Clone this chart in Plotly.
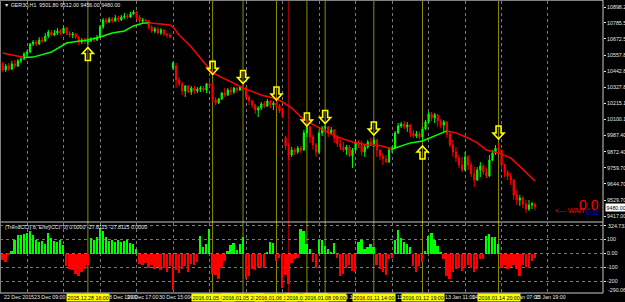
import plotly.graph_objects as go

W, H = 625, 302

# ---------------- data ----------------
bars = list(range(176))
opens = [10495,10452,10480,10459,10495,10480,10516,10529,10565,10579,
         10636,10650,10636,10664,10657,10692,10721,10700,10714,10728,
         10714,10749,10714,10700,10707,10685,10650,10664,10650,10657,
         10671,10664,10685,10756,10806,10792,10813,10799,10820,10806,
         10827,10834,10827,10849,10863,10827,10799,10806,10799,10756,
         10728,10742,10714,10735,10707,10700,10466,10480,10381,10353,
         10303,10338,10296,10324,10303,10317,10324,10310,10353,10338,
         10239,10218,10246,10289,10275,10310,10296,10324,10310,10331,
         10324,10260,10232,10204,10168,10182,10211,10196,10232,10204,
         10218,10196,10161,9970,9913,9850,9885,9871,9899,9885,
         10006,10048,9977,9921,9871,10006,10041,10048,10006,10027,
         9970,9928,9906,9885,9906,9843,9885,9935,9920,9871,
         9906,9942,9928,9956,9885,9843,9822,9800,9885,9899,
         10006,10055,10069,10048,10062,10006,9984,9999,9977,10034,
         10083,10140,10111,10133,10090,10062,10083,9999,9921,9871,
         9828,9779,9743,9836,9779,9715,9672,9743,9771,9729,
         9700,9814,9864,9899,9885,9779,9729,9700,9672,9566,
         9530,9544,9502,9466,9495,9501.8]
highs = [10509,10495,10502,10516,10523,10529,10543,10579,10593,10643,
         10664,10664,10685,10685,10714,10735,10735,10735,10749,10742,
         10763,10756,10728,10721,10714,10692,10678,10678,10678,10685,
         10685,10700,10771,10820,10820,10827,10827,10842,10834,10842,
         10856,10849,10863,10877,10870,10842,10820,10813,10806,10771,
         10756,10756,10749,10742,10714,10714,10509,10502,10402,10367,
         10345,10345,10338,10338,10331,10338,10338,10360,10395,10360,
         10260,10253,10296,10324,10324,10331,10331,10331,10338,10345,
         10331,10275,10239,10211,10196,10225,10232,10246,10239,10232,
         10232,10211,10182,9984,9935,9906,9899,9913,9913,10027,
         10062,10055,9992,9935,10027,10055,10062,10055,10048,10034,
         9992,9956,9942,9920,9920,9899,9956,9956,9949,9920,
         9956,9970,9977,9963,9892,9864,9850,9906,9913,10020,
         10076,10083,10090,10083,10069,10027,10020,10013,10048,10097,
         10154,10154,10147,10140,10104,10097,10090,10013,9956,9906,
         9850,9836,9871,9850,9800,9764,9764,9800,9786,9757,
         9850,9885,9920,9935,9885,9786,9743,9722,9679,9601,
         9566,9558,9530,9530,9516,9512.0]
lows = [10438,10438,10445,10452,10466,10473,10502,10523,10543,10572,
        10621,10621,10629,10643,10650,10678,10692,10692,10700,10700,
        10707,10700,10685,10678,10671,10629,10636,10636,10629,10650,
        10650,10657,10678,10742,10778,10785,10785,10792,10792,10799,
        10813,10813,10820,10842,10813,10785,10785,10785,10742,10714,
        10714,10707,10700,10692,10678,10678,10452,10324,10338,10275,
        10260,10289,10275,10282,10289,10296,10296,10289,10331,10225,
        10204,10211,10239,10260,10267,10275,10282,10289,10303,10310,
        10239,10204,10182,10140,10118,10168,10182,10189,10182,10168,
        10182,10147,10111,9885,9814,9836,9850,9857,9864,9878,
        9977,9935,9885,9836,9857,9984,10013,9977,9992,9935,
        9906,9885,9871,9850,9836,9757,9871,9899,9843,9836,
        9892,9913,9906,9836,9814,9779,9793,9793,9864,9892,
        9999,10041,10034,10013,9977,9970,9970,9963,9963,10027,
        10076,10090,10076,10048,10041,10013,9970,9906,9836,9800,
        9757,9729,9736,9743,9693,9622,9665,9693,9708,9686,
        9693,9807,9850,9864,9743,9693,9672,9637,9530,9495,
        9488,9473,9439,9452,9466,9456.0]
closes = [10452,10480,10459,10495,10480,10516,10529,10565,10579,10636,
          10650,10636,10664,10657,10692,10721,10700,10714,10728,10714,
          10749,10714,10700,10707,10685,10650,10664,10650,10657,10671,
          10664,10685,10756,10806,10792,10813,10799,10820,10806,10827,
          10834,10827,10849,10863,10827,10799,10806,10799,10756,10728,
          10742,10714,10735,10707,10700,10685,10502,10381,10353,10303,
          10338,10296,10324,10303,10317,10324,10310,10353,10338,10239,
          10218,10246,10289,10275,10310,10296,10324,10310,10331,10324,
          10260,10232,10204,10168,10182,10211,10196,10232,10204,10218,
          10196,10161,10125,9913,9850,9885,9871,9899,9885,10006,
          10048,9977,9921,9871,10006,10041,10048,10006,10027,9970,
          9928,9906,9885,9906,9843,9885,9935,9920,9871,9906,
          9942,9928,9956,9885,9843,9822,9800,9885,9899,10006,
          10055,10069,10048,10062,10006,9984,9999,9977,10034,10083,
          10140,10111,10133,10090,10062,10083,9999,9921,9871,9828,
          9779,9743,9836,9779,9715,9672,9743,9771,9729,9700,
          9814,9864,9899,9885,9779,9729,9700,9672,9566,9530,
          9544,9502,9466,9495,9502,9480.0]

ma_bars = [0, 7, 10, 16, 21, 23, 28, 32, 36, 40, 43, 46, 48, 55, 56, 58, 62, 65,
           69, 75, 79, 85, 90, 92, 95, 98, 100, 104, 110, 115, 120, 124, 128,
           134, 138, 141, 146, 149, 153, 156, 159, 163, 167, 171, 175]
ma_vals = [10572, 10540, 10543, 10579, 10643, 10650, 10664, 10686, 10714, 10728,
           10764, 10783, 10786, 10771, 10756, 10700, 10615, 10537, 10431, 10367,
           10324, 10275, 10246, 10225, 10182, 10119, 10090, 10041, 9977, 9942,
           9920, 9917, 9892, 9935, 9949, 9977, 10020, 10006, 9970, 9935, 9885,
           9864, 9828, 9743, 9665]

cci_vals = [-48,-60,-12,15,100,135,135,140,145,160,
            130,95,85,90,70,145,110,90,85,100,
            60,-90,-110,-120,-145,-160,-130,-110,-80,110,
            100,120,185,160,120,90,100,85,95,80,
            90,100,75,70,35,-75,-80,-70,-100,-85,
            -110,-95,-120,-100,-130,-90,-260,-120,-140,-110,
            -90,-130,-75,-85,-60,126,43,67,174,-148,
            -150,-183,-100,-52,19,60,74,26,67,115,
            -180,-160,-110,-120,-95,-100,-100,5,85,75,
            -50,-30,-245,-150,-215,-65,-40,-35,175,160,
            70,30,-60,-100,100,100,55,30,10,75,
            -30,-160,-145,-100,-80,-125,-135,85,100,30,
            45,70,50,-85,-110,-135,-150,-40,-30,100,
            165,110,80,65,50,-90,-135,-90,-60,20,
            125,150,100,55,10,-40,-160,-183,-130,-110,
            -100,-125,-100,-80,-105,-135,-112,-40,-40,125,
            140,120,115,70,-100,-80,-110,-95,-80,-110,
            -160,-80,-95,-100,-55,-30]

sell_bars = [69, 79, 90, 100, 106, 122, 163]
sell_arrow_price = [10470, 10406, 10289, 10104, 10122, 10041, 10012]
buy_bars = [28, 138]
buy_arrow_price = [10562, 9864]

signal_line_bars = [28, 69, 79, 90, 100, 106, 122, 138, 163]
signal_line_text = ["2015.12.28 16:00", "2016.01.05 08:00", "2016.01.05 20:00",
                    "2016.01.06 18:00", "2016.01.07 16:00", "2016.01.08 09:00",
                    "2016.01.11 14:00", "2016.01.12 19:00", "2016.01.14 20:00"]
red_line_bars = [94]

grid_bars = [8, 20, 32, 44, 56, 68, 80, 92, 104, 116, 128, 140, 152, 164, 179]
time_label_bars = [-0.2, 9.6, 33.3, 40.2, 50.7, 60.9, 111.9, 129.0, 144.7, 153.6, 165.8, 174.3]
time_label_text = ["22 Dec 2015", "23 Dec 09:00", "28 Dec 19:00", "29 Dec 17:00",
                   "30 Dec 15:00", "4 Jan 13:00", "8 Jan 16:00", "11 Jan 20:00",
                   "13 Jan 11:00", "14 Jan 04:00", "15 Jan 07:00", "15 Jan 19:00"]

price_ticks = [10898.20, 10785.50, 10672.50, 10557.80, 10442.80, 10327.80, 10215.10,
               10100.10, 9987.40, 9872.40, 9759.70, 9644.70, 9529.70, 9417.00]
cci_levels = [200, 100, 0, -100, -200]
cci_level_text = ["", "100", "0.00", "-100", "-200"]
cci_max_label = "324.7333"
cci_min_label = "-290.0667"

title_text = "GER30,H1  9501.80 9512.00 9456.00 9480.00"
ind_title = "(TrendCCI) 8, EntryCCI: 0) 0.0000 -27.8115 -27.8115 0.0000"

# ---------------- layout geometry (pixels) ----------------
PLOT_R = 603
MAIN_TOP, MAIN_BOT = 1, 221
IND_TOP, IND_BOT = 222.5, 293
BAR0_PX, BAR_STEP = 2.7, 3.042

def py(p):
    return 1 - p / H

x_lo = (0 - BAR0_PX) / BAR_STEP
x_hi = (PLOT_R - BAR0_PX) / BAR_STEP
y_top = 10898.2 + (7 - MAIN_TOP) * 7.087
y_bot = 10898.2 - (MAIN_BOT - 7) * 7.087
cci_top = (253 - IND_TOP) / 14 * 100
cci_bot = -(IND_BOT - 253) / 14 * 100

FONT = "Liberation Sans, Arial, sans-serif"
FS = 5.3
TXT = "#E6E6E6"
UP = "#00FF00"
DN = "#FF0000"

fig = go.Figure()

fig.add_trace(go.Bar(
    x=bars, y=cci_vals, width=0.6,
    marker=dict(color=[UP if v >= 0 else DN for v in cci_vals], line=dict(width=0)),
    xaxis="x2", yaxis="y2", hoverinfo="skip"))

fig.add_trace(go.Candlestick(
    x=bars, open=opens, high=highs, low=lows, close=closes,
    increasing=dict(line=dict(color=UP, width=1), fillcolor=UP),
    decreasing=dict(line=dict(color=DN, width=1), fillcolor=DN),
    whiskerwidth=0, xaxis="x", yaxis="y", hoverinfo="skip"))

# two-colour moving average
segs = []
for k in range(len(ma_bars) - 1):
    col = UP if ma_vals[k + 1] >= ma_vals[k] else DN
    if segs and segs[-1][0] == col:
        segs[-1][1].append(k + 1)
    else:
        segs.append([col, [k, k + 1]])
for col, idx in segs:
    fig.add_trace(go.Scatter(
        x=[ma_bars[i] for i in idx], y=[ma_vals[i] for i in idx],
        mode="lines", line=dict(color=col, width=1.5),
        xaxis="x", yaxis="y", hoverinfo="skip"))

shapes = []
for b in signal_line_bars:
    shapes.append(dict(type="line", xref="x", yref="paper", x0=b, x1=b,
                       y0=py(IND_BOT), y1=py(0), layer="below",
                       line=dict(color="#8C8C00", width=1)))
for b in red_line_bars:
    shapes.append(dict(type="line", xref="x", yref="paper", x0=b, x1=b,
                       y0=py(IND_BOT), y1=py(0), layer="below",
                       line=dict(color="#B00000", width=1)))
shapes.append(dict(type="line", xref="paper", yref="paper", x0=0, x1=PLOT_R / W,
                   y0=py(222), y1=py(222), line=dict(color="#C8C8C8", width=1)))
shapes.append(dict(type="line", xref="paper", yref="paper", x0=0, x1=PLOT_R / W,
                   y0=py(IND_BOT), y1=py(IND_BOT), line=dict(color="#C8C8C8", width=1)))
shapes.append(dict(type="line", xref="paper", yref="paper", x0=0, x1=PLOT_R / W,
                   y0=py(0.5), y1=py(0.5), line=dict(color="#808080", width=1)))
shapes.append(dict(type="line", xref="paper", yref="paper", x0=0.5 / W, x1=0.5 / W,
                   y0=py(IND_BOT), y1=py(0), line=dict(color="#808080", width=1)))
shapes.append(dict(type="line", xref="paper", yref="paper", x0=PLOT_R / W, x1=PLOT_R / W,
                   y0=py(IND_BOT), y1=py(0), line=dict(color="#C8C8C8", width=1)))

UP_ARROW = "M0,7 L5.5,1 L2.5,1 L2.5,-6 L-2.5,-6 L-2.5,1 L-5.5,1 Z"
DN_ARROW = "M0,-7 L5.5,-1 L2.5,-1 L2.5,6 L-2.5,6 L-2.5,-1 L-5.5,-1 Z"
for b, p in zip(sell_bars, sell_arrow_price):
    shapes.append(dict(type="path", xref="x", yref="y", xsizemode="pixel", ysizemode="pixel",
                       xanchor=b, yanchor=p, path=DN_ARROW,
                       line=dict(color="#FFFF00", width=1.6), fillcolor="rgba(0,0,0,0)"))
for b, p in zip(buy_bars, buy_arrow_price):
    shapes.append(dict(type="path", xref="x", yref="y", xsizemode="pixel", ysizemode="pixel",
                       xanchor=b, yanchor=p, path=UP_ARROW,
                       line=dict(color="#FFFF00", width=1.6), fillcolor="rgba(0,0,0,0)"))

ann = []
ann.append(dict(text="▼ " + title_text, x=2 / W, y=py(4.5), xref="paper", yref="paper",
                xanchor="left", yanchor="middle", showarrow=False,
                font=dict(family=FONT, size=FS, color=TXT)))
ann.append(dict(text=ind_title, x=3 / W, y=py(227), xref="paper", yref="paper",
                xanchor="left", yanchor="middle", showarrow=False,
                font=dict(family=FONT, size=FS, color=TXT)))
ann.append(dict(text=cci_max_label, x=606 / W, y=py(226), xref="paper", yref="paper",
                xanchor="left", yanchor="middle", showarrow=False,
                font=dict(family=FONT, size=FS, color=TXT)))
ann.append(dict(text=cci_min_label, x=606 / W, y=py(290), xref="paper", yref="paper",
                xanchor="left", yanchor="middle", showarrow=False,
                font=dict(family=FONT, size=FS, color=TXT)))
ann.append(dict(text="%.2f" % closes[-1], x=604.5 / W, y=closes[-1], xref="paper", yref="y",
                xanchor="left", yanchor="middle", showarrow=False, bgcolor="#FFFFFF",
                borderpad=0.5, font=dict(family=FONT, size=FS, color="#000000")))
ann.append(dict(text="<--- WAIT", x=588 / W, y=9456, xref="paper", yref="y",
                xanchor="right", yanchor="middle", showarrow=False,
                font=dict(family=FONT, size=7, color="#FF0000")))
ann.append(dict(text="0.0", x=601 / W, y=9495, xref="paper", yref="y",
                xanchor="right", yanchor="middle", showarrow=False,
                font=dict(family=FONT, size=14, color="#FF0000")))
ann.append(dict(text="0.0", x=601 / W, y=9442, xref="paper", yref="y",
                xanchor="right", yanchor="middle", showarrow=False,
                font=dict(family=FONT, size=9, color="#0000FF")))
for b, t in zip(time_label_bars, time_label_text):
    ann.append(dict(text=t, x=b, y=py(297), xref="x", yref="paper",
                    xanchor="left", yanchor="middle", showarrow=False,
                    font=dict(family=FONT, size=FS, color=TXT)))
for b, t in zip(signal_line_bars, signal_line_text):
    ann.append(dict(text=t, x=b, y=py(297), xref="x", yref="paper",
                    xanchor="center", yanchor="middle", showarrow=False,
                    bgcolor="#FFFF00", borderpad=0.5,
                    font=dict(family=FONT, size=FS, color="#000000")))

axis_common = dict(tickvals=grid_bars, showgrid=True, gridcolor="#7A7A7A", griddash="dot",
                   gridwidth=1, showticklabels=False, zeroline=False, showline=False,
                   ticks="", automargin=False)

fig.update_layout(
    width=W, height=H, margin=dict(l=0, r=0, t=0, b=0, pad=0, autoexpand=False),
    autosize=False,
    paper_bgcolor="#000000", plot_bgcolor="#000000", showlegend=False,
    boxgap=0.45, bargap=0, annotations=ann, shapes=shapes,
    xaxis=dict(domain=[0, PLOT_R / W], range=[x_lo, x_hi], anchor="y",
               rangeslider=dict(visible=False), **axis_common),
    xaxis2=dict(domain=[0, PLOT_R / W], matches="x", anchor="y2", **axis_common),
    yaxis=dict(domain=[py(MAIN_BOT), py(MAIN_TOP)], range=[y_bot, y_top], side="right",
               anchor="x", tickvals=price_ticks, ticktext=["%.2f" % v for v in price_ticks],
               ticks="outside", ticklen=2, tickcolor=TXT, showgrid=False, zeroline=False,
               automargin=False, tickfont=dict(family=FONT, size=FS, color=TXT)),
    yaxis2=dict(domain=[py(IND_BOT), py(IND_TOP)], range=[cci_bot, cci_top], side="right",
                anchor="x2", tickvals=cci_levels, ticktext=cci_level_text,
                ticks="outside", ticklen=2, tickcolor=TXT, showgrid=True,
                gridcolor="#7A7A7A", griddash="dot", zeroline=False, automargin=False,
                tickfont=dict(family=FONT, size=FS, color=TXT)),
)

fig.write_html("out.html", config={"responsive": False})
